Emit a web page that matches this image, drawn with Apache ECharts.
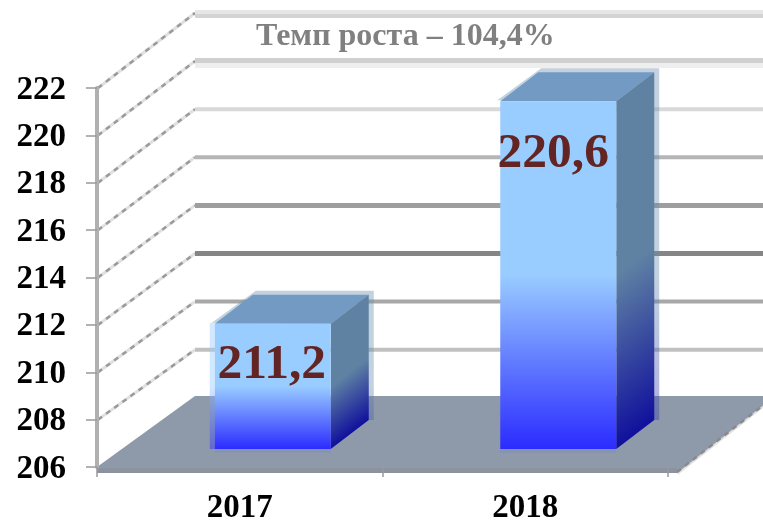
<!DOCTYPE html>
<html><head><meta charset="utf-8">
<style>html,body{margin:0;padding:0;background:#fff}#c{width:763px;height:522px}</style>
<script src="https://cdn.jsdelivr.net/npm/echarts@6/dist/echarts.min.js"></script>
</head><body><div id="c"></div>
<script>
const categories = ['2017', '2018'];
const values = [211.2, 220.6];
const yTicks = [206, 208, 210, 212, 214, 216, 218, 220, 222];
const titleText = 'Темп роста – 104,4%';

const FONT = '"Liberation Serif","Times New Roman",serif';
const WALL_DX = 98, WALL_DY = -75, WALL_SKEW = 0.36;
const wallStyle = {
  208: ['#c0c0c0', 4], 210: ['#a8a8a8', 4], 212: ['#858585', 5], 214: ['#9e9e9e', 5],
  216: ['#b5b5b5', 4], 218: ['#d8d8d8', 4], 220: ['#d0d0d0', 5], 222: ['#d4d4d4', 4]
};

function renderWall(params, api) {
  const cs = params.coordSys, t = api.value(1), y = api.coord([0, t])[1];
  const xL = cs.x, xB = xL + WALL_DX, yB = y + WALL_DY + (222 - t) * WALL_SKEW;
  const st = wallStyle[t];
  const darkY = yB + (t === 222 ? 3 : t === 220 ? -0.5 : 0);
  const ch = [
    { type: 'line', shape: { x1: xL + 1, y1: y, x2: xB, y2: yB }, style: { stroke: '#e0e0e0', lineWidth: 3 } },
    { type: 'line', shape: { x1: xL + 1, y1: y, x2: xB, y2: yB }, style: { stroke: '#9a9a9a', lineWidth: 2.5, lineDash: [5, 5] } },
    { type: 'line', shape: { x1: xB, y1: darkY, x2: 763, y2: darkY }, style: { stroke: st[0], lineWidth: st[1] } }
  ];
  if (t === 222 || t === 220) {
    const ly = yB + (t === 222 ? -1 : 4.5);
    ch.push({ type: 'line', shape: { x1: xB, y1: ly, x2: 763, y2: ly },
      style: { stroke: t === 222 ? '#e6e6e6' : '#eeeeee', lineWidth: t === 222 ? 4 : 5 } });
  }
  return { type: 'group', children: ch };
}

function renderFloor(params, api) {
  const cs = params.coordSys, y = api.coord([0, 206])[1];
  const L = cs.x, R = cs.x + cs.width;
  return { type: 'group', children: [
    { type: 'line', shape: { x1: R + 9, y1: y + 6, x2: R + 9 + WALL_DX, y2: y - 71 }, style: { stroke: '#e0e0e0', lineWidth: 4 } },
    { type: 'polygon', shape: { points: [[L, y + 6], [R + 9, y + 6], [R + 9 + WALL_DX, y - 71], [L + WALL_DX, y - 71], [L, y]] },
      style: { fill: '#8e9aaa' } },
    { type: 'rect', shape: { x: L, y: y + 1, width: R + 9 - L, height: 5 }, style: { fill: '#8c939e' } },
    { type: 'line', shape: { x1: R + 9, y1: y + 5, x2: R + 9 + WALL_DX, y2: y - 71 },
      style: { stroke: '#8a8a8a', lineWidth: 2.5, lineDash: [5, 5] } }
  ] };
}

const BAR_W = 116, BAR_DX = 38, BAR_DY = -29, BAR_SHIFT = 33, BASE_UP = 18, TOP_UP = 20;
const labelNudge = [[-1, 41], [-5, 53]];
const stops = (a, b) => [{ offset: 0, color: a }, { offset: 0.5, color: a }, { offset: 1, color: b }];

function renderBar(params, api) {
  const i = api.value(0), v = api.value(1);
  const c = api.coord([i, v]), base = api.coord([i, 206]);
  const x = c[0] + BAR_SHIFT - BAR_W / 2, x2 = x + BAR_W;
  const yT = c[1] - TOP_UP, yB = base[1] - BASE_UP;
  const h = yB - yT, dx = BAR_DX, dy = BAR_DY;
  const px = 0.607 * 0.795 * h, py = 0.795 * 0.795 * h;
  const fringe = { type: 'polygon',
    shape: { points: [[x - 3, yT - 1], [x + dx + 3, yT + dy - 4], [x2 + dx + 5, yT + dy - 4], [x2 + dx + 5, yB + dy], [x2 + dx, yB + dy], [x2, yT]] },
    style: { opacity: 0.4, fill: { type: 'linear', global: true, x: 0, y: yT, x2: 0, y2: yB, colorStops: stops('#6a8cb0', '#2a2ab0') } } };
  const children = [
    { type: 'rect', shape: { x: x, y: yB, width: BAR_W, height: 4 }, style: { fill: '#6f7fc8', opacity: 0.25 } },
    fringe,
    { type: 'polygon', shape: { points: [[x, yT], [x2, yT], [x2 + dx, yT + dy], [x + dx, yT + dy]] }, style: { fill: '#739ac3' } },
    { type: 'polygon', shape: { points: [[x2, yT], [x2 + dx, yT + dy], [x2 + dx, yB + dy], [x2, yB]] },
      style: { fill: { type: 'linear', global: true, x: x2, y: yT, x2: x2 + px, y2: yT + py, colorStops: stops('#5f82a3', '#10109c') } } },
    { type: 'rect', shape: { x: x, y: yT, width: BAR_W, height: h },
      style: { fill: { type: 'linear', global: true, x: 0, y: yT, x2: 0, y2: yB, colorStops: stops('#99ccff', '#2b2bff') } } }
  ];
  if (i === 0) children.push({ type: 'rect', shape: { x: x - 5, y: yT - 1, width: 5, height: h + 1 },
    style: { opacity: 0.45, fill: { type: 'linear', global: true, x: 0, y: yT, x2: 0, y2: yB, colorStops: stops('#99ccff', '#2b2bff') } } });
  const n = labelNudge[i];
  children.push({ type: 'text', style: { x: x + BAR_W / 2 + n[0], y: yT + n[1], text: String(v).replace('.', ','),
    font: 'bold 49.5px ' + FONT, fill: '#632523', align: 'center', verticalAlign: 'middle' } });
  return { type: 'group', children: children };
}

const chart = echarts.init(document.getElementById('c'), null, { renderer: 'canvas' });
chart.setOption({
  animation: false,
  backgroundColor: '#fff',
  title: { text: titleText, left: 251, top: 16,
    textStyle: { color: '#808080', fontFamily: FONT, fontWeight: 'bold', fontSize: 32 } },
  grid: { left: 97, right: 95, top: 88, bottom: 55, outerBoundsMode: 'none' },
  xAxis: { type: 'category', data: categories, z: 6,
    axisLine: { show: false },
    axisTick: { show: true, length: 10, alignWithLabel: false, lineStyle: { color: '#999', width: 1.5 } },
    axisLabel: { color: '#000', fontFamily: FONT, fontWeight: 'bold', fontSize: 33, margin: 25 } },
  yAxis: { type: 'value', min: 206, max: 222, interval: 2, z: 5,
    splitLine: { show: false },
    axisLine: { show: true, lineStyle: { color: '#b0b0b0', width: 4 } },
    axisTick: { show: true, length: 11, lineStyle: { color: '#999', width: 1.5 } },
    axisLabel: { color: '#000', fontFamily: FONT, fontWeight: 'bold', fontSize: 33, margin: 31, verticalAlign: 'top', lineHeight: 4 } },
  series: [
    { type: 'custom', silent: true, clip: false, z: 2, renderItem: renderWall,
      encode: { x: 0, y: 1 }, data: yTicks.filter(t => t > 206).map(t => [0, t]) },
    { type: 'custom', silent: true, clip: false, z: 3, renderItem: renderFloor,
      encode: { x: 0, y: 1 }, data: [[0, yTicks[0]]] },
    { type: 'custom', silent: true, clip: false, z: 4, renderItem: renderBar,
      encode: { x: 0, y: 1 }, data: values.map((v, i) => [i, v]) }
  ]
});
</script></body></html>
